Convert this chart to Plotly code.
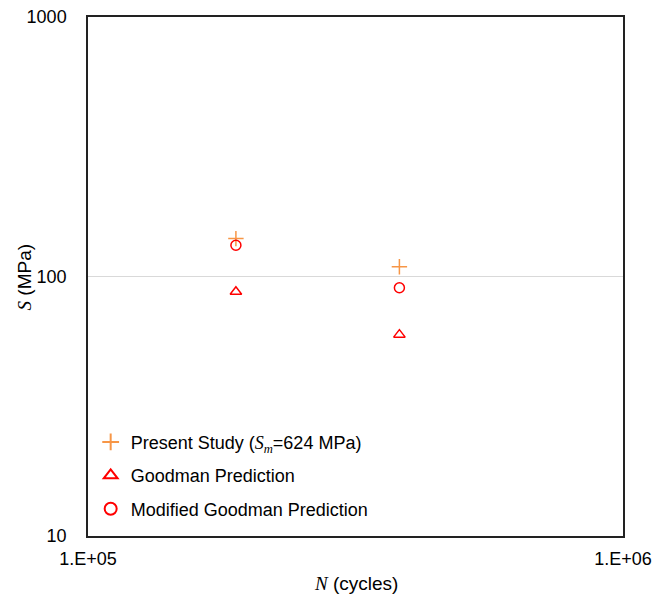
import plotly.graph_objects as go

# Data
present_N = [189000, 382000]
present_S = [140, 109]
goodman_N = [189000, 382000]
goodman_S = [87.4, 59.7]
modgood_N = [189000, 382000]
modgood_S = [132, 90.5]

x_tickvals = [1e5, 1e6]
x_ticktext = ["1.E+05", "1.E+06"]
y_tickvals = [10, 100, 1000]
y_ticktext = ["10", "100", "1000"]

SERIF = "font-family:'Liberation Serif','Times New Roman',serif"

fig = go.Figure()
fig.add_trace(go.Scatter(
    x=present_N, y=present_S, mode="markers", legendgroup="a",
    name=f"Present Study (<span style=\"{SERIF}\"><i>S<sub>m</sub></i></span>=624 MPa)",
    marker=dict(symbol="cross-thin", size=11, line=dict(color="#F79646", width=1.5), color="#F79646"),
))
fig.add_trace(go.Scatter(
    x=goodman_N, y=goodman_S, mode="markers", name="Goodman Prediction", legendgroup="b",
    marker=dict(symbol="triangle-up-open", size=10, color="#FF0000", line=dict(width=1.5)),
))
fig.add_trace(go.Scatter(
    x=modgood_N, y=modgood_S, mode="markers", name="Modified Goodman Prediction", legendgroup="c",
    marker=dict(symbol="circle-open", size=10, color="#FF0000", line=dict(width=1.5)),
))

fig.update_layout(
    width=668, height=599,
    margin=dict(l=88, r=45, t=17, b=63),
    paper_bgcolor="white", plot_bgcolor="white",
    font=dict(family="Liberation Sans, Arial, sans-serif", size=18, color="#000"),
    showlegend=True,
    legend=dict(x=0.005, y=0.016, xanchor="left", yanchor="bottom",
                bgcolor="rgba(0,0,0,0)", font=dict(size=18), tracegroupgap=7,
                itemsizing="constant"),
    xaxis=dict(
        type="log", range=[5, 6], tickvals=x_tickvals, ticktext=x_ticktext,
        showgrid=False, zeroline=False, showline=True, mirror=True,
        linecolor="#222", linewidth=1.5, ticks="", ticklabelstandoff=6,
        automargin=False, tickfont=dict(size=18),
    ),
    yaxis=dict(
        type="log", range=[1, 3], tickvals=y_tickvals, ticktext=y_ticktext,
        showgrid=True, gridcolor="#D9D9D9", gridwidth=1, zeroline=False,
        showline=True, mirror=True, linecolor="#222", linewidth=1.5,
        ticks="", ticklabelstandoff=16, automargin=False, tickfont=dict(size=18),
    ),
    annotations=[
        dict(text=f"<span style=\"{SERIF}\"><i>N</i></span> (cycles)",
             xref="paper", yref="paper", x=0.5, y=-0.0906,
             xanchor="center", yanchor="middle", showarrow=False,
             font=dict(size=19)),
        dict(text=f"<span style=\"{SERIF}\"><i>S</i></span> (MPa)",
             xref="paper", yref="paper", x=-0.1178, y=0.5, textangle=-90,
             xanchor="center", yanchor="middle", showarrow=False,
             font=dict(size=19)),
    ],
)

fig.write_html("out.html")
